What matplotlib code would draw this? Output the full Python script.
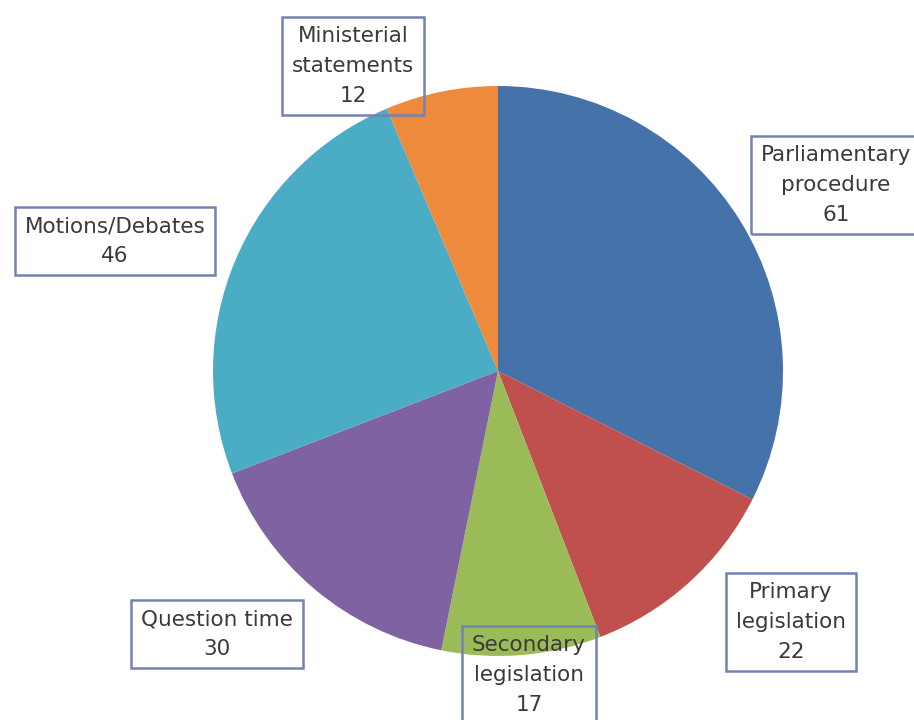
import matplotlib.pyplot as plt

# -----------------------------
# Data
# -----------------------------
categories = ["Parliamentary\nprocedure", "Primary\nlegislation", "Secondary\nlegislation",
              "Question time", "Motions/Debates", "Ministerial\nstatements"]
values = [61, 22, 17, 30, 46, 12]
colors = ["#4672AA", "#C0504D", "#9BBB59", "#7E62A1", "#4BACC6", "#EE8A3C"]

# label centres in pixel coords (top-left origin)
label_pos = [(836, 185), (791, 622), (529, 675), (217, 634), (115, 241), (353, 66)]

W, H = 914, 720
fig = plt.figure(figsize=(W / 100, H / 100), dpi=100)
ax = fig.add_axes([0, 0, 1, 1])

ax.pie(values, colors=colors, startangle=90, counterclock=False,
       center=(498, H - 371), radius=285, wedgeprops=dict(linewidth=0))

ax.set_xlim(0, W)
ax.set_ylim(0, H)
ax.set_aspect('equal')
ax.axis('off')

# -----------------------------
# Data labels in boxes
# -----------------------------
for cat, val, (px, py) in zip(categories, values, label_pos):
    ax.text(px, H - py, f"{cat}\n{val}", ha='center', va='center',
            fontsize=15.5, color='#3a3a3a', linespacing=1.6,
            bbox=dict(boxstyle='square,pad=0.45', facecolor='none',
                      edgecolor='#7282b4', linewidth=1.8))

fig.savefig("out.png", dpi=100)
